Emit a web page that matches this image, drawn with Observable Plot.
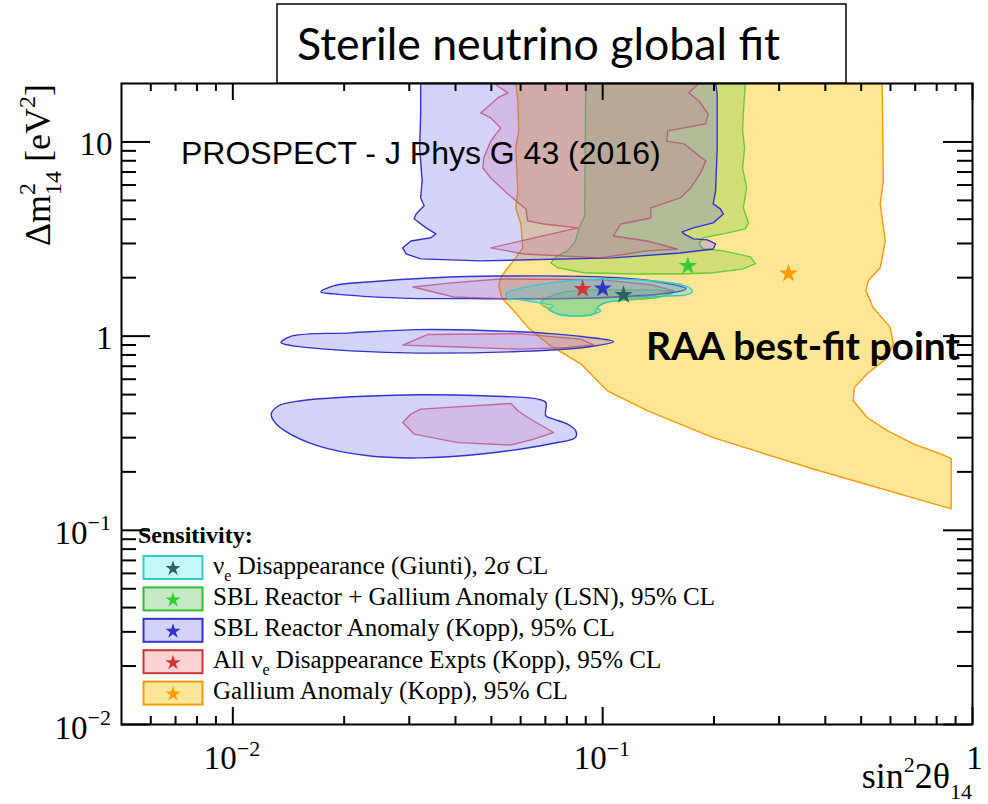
<!DOCTYPE html>
<html>
<head>
<meta charset="utf-8">
<script src="https://cdn.jsdelivr.net/npm/d3@7"></script>
<script src="https://cdn.jsdelivr.net/npm/@observablehq/plot@0.6"></script>
<style>
  html, body { margin: 0; padding: 0; background: #fff; overflow: hidden; }
  #chart svg { display: block; }
</style>
</head>
<body>
<div id="chart"></div>
<script>
// Allowed regions in the (sin²2θ14, Δm²14) plane, as [sin²2θ14, Δm²14 (eV²)] vertices.
// Contours running off the top of the plot are closed at Δm² = 20 eV².

const galliumKopp = [
  [0.0582, 20], [0.570, 20], [0.572, 11.4], [0.574, 6.30], [0.563, 4.80], [0.581, 3.09],
  [0.563, 2.25], [0.523, 1.93], [0.515, 1.71], [0.539, 1.40], [0.599, 1.11], [0.611, 0.913],
  [0.588, 0.773], [0.519, 0.640], [0.479, 0.544], [0.476, 0.465], [0.519, 0.381],
  [0.588, 0.326], [0.692, 0.279], [0.818, 0.248], [0.876, 0.234], [0.876, 0.129],
  [0.371, 0.207], [0.199, 0.300], [0.132, 0.413], [0.103, 0.523], [0.0872, 0.720],
  [0.0710, 0.913], [0.0631, 1.10], [0.0575, 1.35], [0.0534, 1.57], [0.0524, 1.82],
  [0.0530, 2.00], [0.0554, 2.25], [0.0582, 2.53], [0.0608, 2.85], [0.0601, 3.78],
  [0.0582, 4.58], [0.0590, 5.60], [0.0582, 9.31], [0.0593, 11.4], [0.0590, 16.3]
];

const lsnBand = [
  [0.0900, 20], [0.243, 20], [0.240, 13.9], [0.239, 11.4], [0.242, 9.31], [0.239, 7.35],
  [0.245, 5.80], [0.240, 4.58], [0.248, 3.83], [0.243, 3.57], [0.218, 3.40], [0.187, 3.21],
  [0.182, 2.99], [0.187, 2.81], [0.212, 2.75], [0.251, 2.56], [0.259, 2.36], [0.240, 2.22],
  [0.199, 2.12], [0.162, 2.09], [0.121, 2.09], [0.0889, 2.12], [0.0756, 2.25],
  [0.0724, 2.38], [0.0747, 2.56], [0.0804, 2.75], [0.0845, 3.09], [0.0861, 3.57], [0.0894, 4.16]
];
const lsnIsland = [
  [0.0680, 1.48], [0.0770, 1.67], [0.112, 1.73], [0.156, 1.69], [0.143, 1.59], [0.101, 1.48],
  [0.0969, 1.40], [0.0946, 1.30], [0.0856, 1.27], [0.0756, 1.30], [0.0715, 1.38]
];

const reactorUpper = [
  [0.0322, 20], [0.202, 20], [0.204, 17.7], [0.204, 9.31], [0.202, 5.60], [0.199, 4.80],
  [0.208, 4.52], [0.212, 4.26], [0.199, 3.83], [0.176, 3.61], [0.164, 3.44], [0.166, 3.36],
  [0.176, 3.17], [0.192, 3.13], [0.202, 2.99], [0.199, 2.81], [0.162, 2.68], [0.107, 2.53],
  [0.0468, 2.44], [0.0322, 2.50], [0.0294, 2.65], [0.0288, 2.85], [0.0303, 3.09],
  [0.0343, 3.21], [0.0354, 3.36], [0.0333, 3.61], [0.0309, 4.02], [0.0313, 4.26],
  [0.0329, 4.69], [0.0322, 5.15], [0.0325, 6.30], [0.0320, 9.31], [0.0322, 13.9]
];
const reactorBand2 = [
  [0.0173, 1.69], [0.0188, 1.82], [0.0232, 1.90], [0.0350, 2.00], [0.0530, 2.04],
  [0.0988, 2.02], [0.135, 1.93], [0.168, 1.75], [0.153, 1.67], [0.121, 1.61],
  [0.0804, 1.56], [0.0432, 1.56], [0.0285, 1.57], [0.0188, 1.65]
];
const reactorBand1 = [
  [0.0135, 0.927], [0.0144, 1.00], [0.0209, 1.04], [0.0317, 1.08], [0.0477, 1.07],
  [0.0724, 1.03], [0.0889, 0.992], [0.107, 0.938], [0.0889, 0.874], [0.0590, 0.833],
  [0.0317, 0.818], [0.0209, 0.840], [0.0153, 0.881], [0.0137, 0.913]
];
const reactorLow = [
  [0.0127, 0.397], [0.0133, 0.438], [0.0153, 0.465], [0.0209, 0.487], [0.0317, 0.499],
  [0.0477, 0.493], [0.0668, 0.474], [0.0702, 0.455], [0.0702, 0.389], [0.0737, 0.374],
  [0.0804, 0.352], [0.0845, 0.326], [0.0845, 0.301], [0.0724, 0.279], [0.0477, 0.248],
  [0.0317, 0.236], [0.0232, 0.242], [0.0170, 0.272], [0.0138, 0.326], [0.0129, 0.366]
];

const allUpper = [
  [0.0508, 20], [0.0554, 17.9], [0.0521, 16.9], [0.0468, 14.1], [0.0498, 13.3], [0.0530, 11.8],
  [0.0498, 10.1], [0.0477, 8.27], [0.0474, 7.35], [0.0498, 6.53], [0.0554, 5.40], [0.0620, 4.52],
  [0.0627, 3.92], [0.0693, 3.78], [0.0856, 3.61], [0.0498, 2.85], [0.0612, 2.65], [0.0988, 2.53],
  [0.132, 2.75], [0.159, 2.81], [0.132, 3.09], [0.107, 3.28], [0.112, 3.78], [0.135, 4.06],
  [0.135, 4.58], [0.162, 5.15], [0.173, 5.80], [0.184, 6.93], [0.190, 7.98], [0.166, 9.77],
  [0.149, 10.1], [0.150, 11.4], [0.190, 12.4], [0.193, 13.9], [0.182, 16.3], [0.171, 17.9], [0.182, 20]
];
const allBand2 = [
  [0.0307, 1.79], [0.0389, 1.88], [0.0530, 1.97], [0.0988, 1.95], [0.135, 1.84], [0.156, 1.71],
  [0.135, 1.61], [0.0988, 1.57], [0.0530, 1.56], [0.0396, 1.59]
];
const allBand1 = [
  [0.0288, 0.899], [0.0337, 1.02], [0.0590, 1.03], [0.0872, 0.965], [0.0946, 0.902],
  [0.0804, 0.874], [0.0590, 0.857], [0.0389, 0.881]
];
const allLow = [
  [0.0288, 0.359], [0.0303, 0.397], [0.0322, 0.421], [0.0565, 0.450], [0.0590, 0.413],
  [0.0627, 0.381], [0.0737, 0.319], [0.0651, 0.295], [0.0565, 0.275], [0.0406, 0.283], [0.0309, 0.313]
];

const giunti = [
  [0.0547, 1.65], [0.0590, 1.75], [0.0724, 1.88], [0.0988, 1.97], [0.135, 1.93], [0.166, 1.82],
  [0.175, 1.71], [0.168, 1.63], [0.150, 1.61], [0.121, 1.56], [0.101, 1.48], [0.0969, 1.40],
  [0.0988, 1.35], [0.0946, 1.30], [0.0856, 1.27], [0.0756, 1.30], [0.0715, 1.38], [0.0737, 1.43],
  [0.0680, 1.48], [0.0601, 1.54], [0.0554, 1.57]
];

// Best-fit points
const bestFitX = [0.1139, 0.170, 0.100, 0.0883, 0.318];
const bestFitY = [1.63, 2.30, 1.76, 1.75, 2.10];

// Fit names (legend order) and colours
const fitLabels = [
  [["ν"], ["e", "sub"], [" Disappearance (Giunti), 2σ CL"]],
  [["SBL Reactor + Gallium Anomaly (LSN), 95% CL"]],
  [["SBL Reactor Anomaly (Kopp), 95% CL"]],
  [["All ν"], ["e", "sub"], [" Disappearance Expts (Kopp), 95% CL"]],
  [["Gallium Anomaly (Kopp), 95% CL"]]
];
const starColors = ["#2f5f5f", "#33cc33", "#3333cc", "#d03838", "#ff9900"];
const boxFills = ["#c4fafa", "#c6eac6", "#d2d2fc", "#fcd2d2", "#ffe699"];
const boxStrokes = ["#33cccc", "#33bb33", "#3333cc", "#cc3333", "#ff9900"];

// Axis ticks and labels
const xMajor = [0.01, 0.1, 1];
const xMinor = [0.006, 0.007, 0.008, 0.009, 0.02, 0.03, 0.04, 0.05, 0.06, 0.07, 0.08, 0.09,
                0.2, 0.3, 0.4, 0.5, 0.6, 0.7, 0.8, 0.9];
const yMajor = [0.01, 0.1, 1, 10];
const yMinor = [0.02, 0.03, 0.04, 0.05, 0.06, 0.07, 0.08, 0.09, 0.2, 0.3, 0.4, 0.5, 0.6, 0.7, 0.8, 0.9,
                2, 3, 4, 5, 6, 7, 8, 9];
const xPowerLabels = [{v: 0.01, exp: "−2"}, {v: 0.1, exp: "−1"}];
const xPlainLabels = [{v: 1, t: "1"}];
const yPowerLabels = [{v: 0.1, exp: "−1"}, {v: 0.01, exp: "−2"}];
const yPlainLabels = [{v: 10, t: "10"}, {v: 1, t: "1"}];

// ---------------------------------------------------------------------------
const W = 988, H = 804;
const M = {left: 121, right: 16, top: 83, bottom: 80};
const FW = W - M.left - M.right, FH = H - M.top - M.bottom;
const SERIF = "'Liberation Serif', 'Times New Roman', Times, serif";

const rows = (...parts) => parts.flatMap((pts, i) => pts.map(([x, y]) => ({x, y, part: i})));
const bestFits = bestFitX.map((x, i) => ({x, y: bestFitY[i], color: starColors[i]}));

const region = (data, fill, fillOpacity, stroke, curve, strokeOpacity = 1) =>
  Plot.line(data, {x: "x", y: "y", z: "part", curve, fill, fillOpacity, stroke, strokeOpacity,
                   strokeWidth: 1.4, strokeLinejoin: "round"});

const tickStyle = {stroke: "#000", strokeWidth: 2};

const chart = Plot.plot({
  width: W, height: H,
  marginLeft: M.left, marginRight: M.right, marginTop: M.top, marginBottom: M.bottom,
  style: {background: "#fff", overflow: "visible"},
  x: {type: "log", domain: [0.005, 1], axis: null},
  y: {type: "log", domain: [0.01, 20], axis: null},
  marks: [
    region(rows(galliumKopp), "#ffd54f", 0.6, "#ff9900", "linear-closed"),
    region(rows(lsnBand), "#66cc33", 0.3, "#66cc33", "linear-closed"),
    region(rows(lsnIsland), "#66cc33", 0.3, "#66cc33", "catmull-rom-closed"),
    region(rows(reactorUpper), "#6666f0", 0.28, "#3333cc", "linear-closed"),
    region(rows(reactorBand2, reactorBand1, reactorLow), "#6666f0", 0.28, "#3333cc", "catmull-rom-closed"),
    region(rows(allUpper, allBand2, allBand1, allLow), "#c85a96", 0.2, "#b8406e", "linear-closed", 0.7),
    region(rows(giunti), "#33cccc", 0.3, "#33cccc", "catmull-rom-closed"),
    Plot.dot(bestFits, {x: "x", y: "y", symbol: "star", r: 5.8, fill: "color", stroke: null}),

    // ticks on all four sides, pointing inwards
    Plot.tickX(xMajor, {x: d => d, insetTop: FH - 17, ...tickStyle}),
    Plot.tickX(xMinor, {x: d => d, insetTop: FH - 8, ...tickStyle}),
    Plot.tickX(xMajor, {x: d => d, insetBottom: FH - 17, ...tickStyle}),
    Plot.tickX(xMinor, {x: d => d, insetBottom: FH - 8, ...tickStyle}),
    Plot.tickY(yMajor, {y: d => d, insetRight: FW - 29, ...tickStyle}),
    Plot.tickY(yMinor, {y: d => d, insetRight: FW - 15, ...tickStyle}),
    Plot.tickY(yMajor, {y: d => d, insetLeft: FW - 29, ...tickStyle}),
    Plot.tickY(yMinor, {y: d => d, insetLeft: FW - 15, ...tickStyle}),
    Plot.frame({stroke: "#000", strokeWidth: 2}),

    // tick labels
    Plot.text(xPowerLabels, {x: "v", text: () => "10", frameAnchor: "bottom", textAnchor: "end",
      lineAnchor: "bottom", dx: 4, dy: 44, fontSize: 33, fontFamily: SERIF, fill: "#000"}),
    Plot.text(xPowerLabels, {x: "v", text: "exp", frameAnchor: "bottom", textAnchor: "start",
      lineAnchor: "bottom", dx: 4, dy: 31, fontSize: 22, fontFamily: SERIF, fill: "#000"}),
    Plot.text(xPlainLabels, {x: "v", text: "t", frameAnchor: "bottom", textAnchor: "middle",
      lineAnchor: "bottom", dx: 2, dy: 44, fontSize: 33, fontFamily: SERIF, fill: "#000"}),
    Plot.text(yPlainLabels, {y: "v", text: "t", frameAnchor: "left", textAnchor: "end",
      lineAnchor: "bottom", dx: -9, dy: 13, fontSize: 33, fontFamily: SERIF, fill: "#000"}),
    Plot.text(yPowerLabels, {y: "v", text: () => "10", frameAnchor: "left", textAnchor: "end",
      lineAnchor: "bottom", dx: -34, dy: 14, fontSize: 33, fontFamily: SERIF, fill: "#000"}),
    Plot.text(yPowerLabels, {y: "v", text: "exp", frameAnchor: "left", textAnchor: "start",
      lineAnchor: "bottom", dx: -34, dy: 0, fontSize: 22, fontFamily: SERIF, fill: "#000"})
  ]
});

document.getElementById("chart").appendChild(chart);
const svg = d3.select(chart);

// Title box
const title = svg.append("g").attr("text-anchor", "start");
title.append("rect").attr("x", 277).attr("y", 4).attr("width", 569).attr("height", 79)
  .attr("fill", "#fff").attr("stroke", "#000").attr("stroke-width", 1.5);
title.append("text").attr("x", 297).attr("y", 60)
  .attr("font-family", "Lato, 'Open Sans', sans-serif").attr("font-size", 44)
  .attr("textLength", 483).attr("lengthAdjust", "spacingAndGlyphs")
  .attr("fill", "#000").attr("text-anchor", "start")
  .text("Sterile neutrino global fit");

// Annotations
svg.append("text").attr("x", 181).attr("y", 164)
  .attr("font-family", "'Liberation Sans', Arial, sans-serif").attr("font-size", 32)
  .attr("fill", "#000").attr("text-anchor", "start")
  .text("PROSPECT - J Phys G 43 (2016)");
svg.append("text").attr("x", 646).attr("y", 360)
  .attr("font-family", "Lato, 'Open Sans', sans-serif").attr("font-weight", 700).attr("font-size", 39)
  .attr("textLength", 314).attr("lengthAdjust", "spacingAndGlyphs")
  .attr("fill", "#000").attr("text-anchor", "start")
  .text("RAA best-fit point");

// Axis titles
const xt = svg.append("text").attr("x", 972).attr("y", 788).attr("text-anchor", "end")
  .attr("font-family", SERIF).attr("font-size", 36).attr("fill", "#000");
xt.append("tspan").text("sin");
xt.append("tspan").attr("dy", -16).attr("font-size", 22).text("2");
xt.append("tspan").attr("dy", 16).text("2θ");
xt.append("tspan").attr("dy", 11).attr("font-size", 22).text("14");

const yt = svg.append("text").attr("transform", "translate(50,165) rotate(-90)")
  .attr("text-anchor", "middle").attr("font-family", SERIF).attr("font-size", 36).attr("fill", "#000");
yt.append("tspan").text("Δm");
yt.append("tspan").attr("dy", -15).attr("font-size", 24).text("2");
yt.append("tspan").attr("dx", -12).attr("dy", 26).attr("font-size", 24).text("14");
yt.append("tspan").attr("dy", -11).text(" [eV");
yt.append("tspan").attr("dy", -15).attr("font-size", 24).text("2");
yt.append("tspan").attr("dy", 15).text("]");

// Legend
const lg = svg.append("g").attr("text-anchor", "start");
lg.append("text").attr("x", 138).attr("y", 543).attr("font-family", SERIF).attr("font-weight", 700)
  .attr("font-size", 24).attr("fill", "#000").attr("text-anchor", "start").text("Sensitivity:");
const star = d3.symbol(d3.symbolStar, 72)();
fitLabels.forEach((segs, i) => {
  const top = 556 + i * 31.4;
  lg.append("rect").attr("x", 143.5).attr("y", top).attr("width", 59).attr("height", 23)
    .attr("fill", boxFills[i]).attr("stroke", boxStrokes[i]).attr("stroke-width", 2);
  lg.append("path").attr("d", star).attr("transform", `translate(173,${top + 12.5})`)
    .attr("fill", starColors[i]);
  const t = lg.append("text").attr("x", 213).attr("y", top + 17.5).attr("font-family", SERIF)
    .attr("font-size", 25).attr("fill", "#000").attr("text-anchor", "start");
  let lowered = false;
  segs.forEach(([s, kind]) => {
    const sp = t.append("tspan").text(s);
    if (kind === "sub") { sp.attr("font-size", 16).attr("dy", 7); lowered = true; }
    else if (lowered) { sp.attr("dy", -7); lowered = false; }
  });
});
</script>
</body>
</html>
